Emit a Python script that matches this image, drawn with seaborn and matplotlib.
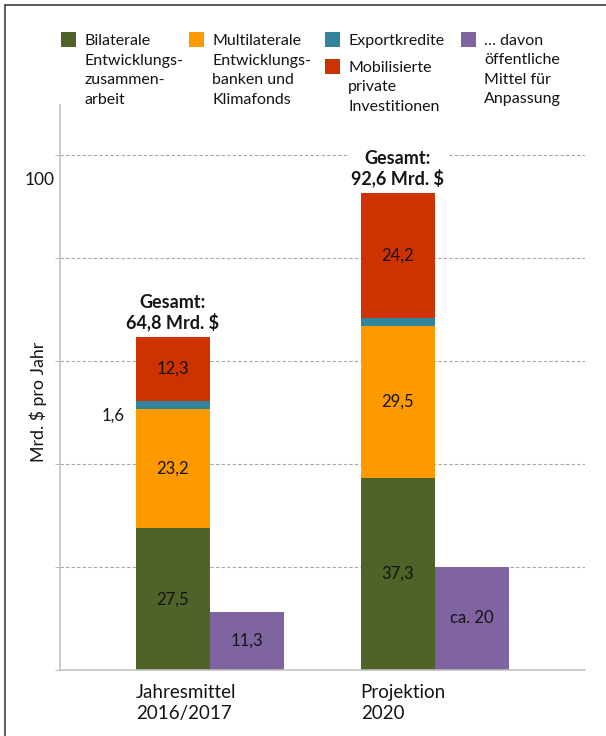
import numpy as np
import pandas as pd
import matplotlib
matplotlib.use("Agg")
import matplotlib.pyplot as plt
from matplotlib.patches import Rectangle
from matplotlib.lines import Line2D
import seaborn as sns

# --- data (Mrd. $ pro Jahr) -------------------------------------------------
categories = ["Jahresmittel\n2016/2017", "Projektion\n2020"]
bilateral = [27.5, 37.3]
multilateral = [23.2, 29.5]
export_credits = [1.6, 1.6]
private_mobilised = [12.3, 24.2]
adaptation = [11.3, 20.0]
totals = [64.8, 92.6]
adaptation_prefix = ["", "ca. "]

series_labels = [
    "Bilaterale\nEntwicklungs-\nzusammen-\narbeit",
    "Multilaterale\nEntwicklungs-\nbanken und\nKlimafonds",
    "Exportkredite",
    "Mobilisierte\nprivate\nInvestitionen",
    "… davon\nöffentliche\nMittel für\nAnpassung",
]
series_colors = ["#4F6228", "#FF9900", "#31849B", "#CC3300", "#8064A2"]

# --- style ------------------------------------------------------------------
sns.set_theme(style="white")
plt.rcParams["font.family"] = ["Lato", "DejaVu Sans"]
TEXT = "#141414"
AXIS_GREY = "#BFBFBF"
GRID_GREY = "#A6A6A6"

W, H = 606, 736
fig = plt.figure(figsize=(W / 100, H / 100), dpi=100)


def fx(px):
    return px / W


def fy(py):
    return 1 - py / H


def de(v):
    return f"{v:.1f}".replace(".", ",")


ax = fig.add_axes([fx(60), fy(670), (585 - 60) / W, (670 - 105) / H])

# base bars: bilateral and adaptation side by side via hue dodge
df = pd.DataFrame({
    "Kategorie": categories * 2,
    "Wert": bilateral + adaptation,
    "Reihe": ["bilateral"] * 2 + ["adaptation"] * 2,
})
sns.barplot(data=df, x="Kategorie", y="Wert", hue="Reihe",
            palette=[series_colors[0], series_colors[4]],
            width=0.66, gap=0, saturation=1, dodge=True, legend=False,
            errorbar=None, linewidth=0, ax=ax)

green_bars = ax.containers[0]
purple_bars = ax.containers[1]
xs = np.array([b.get_x() + b.get_width() / 2 for b in green_bars])
bw = green_bars[0].get_width()

# stacked segments on top of the bilateral bars
bottom = np.array(bilateral, dtype=float)
for vals, col in [(multilateral, series_colors[1]),
                  (export_credits, series_colors[2]),
                  (private_mobilised, series_colors[3])]:
    ax.bar(xs, vals, width=bw, bottom=bottom, color=col, linewidth=0)
    bottom = bottom + np.array(vals)
stack_top = bottom

# value labels inside the segments
VAL_FS = 12
for i, x in enumerate(xs):
    ax.text(x, bilateral[i] / 2, de(bilateral[i]), ha="center", va="center",
            fontsize=VAL_FS, color=TEXT)
    b = bilateral[i]
    ax.text(x, b + multilateral[i] / 2, de(multilateral[i]), ha="center",
            va="center", fontsize=VAL_FS, color=TEXT)
    b2 = b + multilateral[i] + export_credits[i]
    ax.text(x, b2 + private_mobilised[i] / 2, de(private_mobilised[i]),
            ha="center", va="center", fontsize=VAL_FS, color=TEXT)

# export credit value, shown beside the first bar only
ax.annotate(de(export_credits[0]),
            xy=(xs[0] - bw / 2, bilateral[0] + multilateral[0]),
            xytext=(-8, -5), textcoords="offset points",
            ha="right", va="center", fontsize=VAL_FS, color=TEXT)

for i, b in enumerate(purple_bars):
    ax.text(b.get_x() + b.get_width() / 2, adaptation[i] / 2,
            adaptation_prefix[i] + (de(adaptation[i]) if adaptation[i] % 1 else f"{adaptation[i]:.0f}"),
            ha="center", va="center", fontsize=VAL_FS, color=TEXT)

# totals above the stacks
for i, x in enumerate(xs):
    ax.annotate(f"Gesamt:\n{de(totals[i])} Mrd. $",
                xy=(x, stack_top[i]), xytext=(0, 4), textcoords="offset points",
                ha="center", va="bottom", fontsize=13, fontweight="bold",
                color=TEXT, linespacing=1.1,
                bbox=dict(facecolor="white", edgecolor="none", pad=3))

# axes
ax.set_xlim(-0.667, 1.667)
ax.set_ylim(0, 109.7)
ax.set_axisbelow(True)
ax.set_yticks(np.arange(0, 101, 20))
ax.set_yticklabels([])
ax.yaxis.grid(True, color=GRID_GREY, linestyle=(0, (3, 2)), linewidth=0.8)
ax.xaxis.grid(False)
ax.tick_params(axis="y", length=3.6, width=0.8, color=AXIS_GREY, left=True)
ax.set_xticks([b.get_x() for b in green_bars])
ax.set_xticklabels(categories, ha="left", fontsize=13.5, color=TEXT,
                   linespacing=1.32)
ax.tick_params(axis="x", length=0, pad=10)
ax.set_xlabel("")
ax.set_ylabel("")
for s in ["top", "right"]:
    ax.spines[s].set_visible(False)
for s in ["left", "bottom"]:
    ax.spines[s].set_color(AXIS_GREY)
    ax.spines[s].set_linewidth(1.1)

ax.annotate("100", xy=(0, 100), xycoords=("axes fraction", "data"),
            xytext=(-4, -18), textcoords="offset points",
            ha="right", va="center", fontsize=12.5, color=TEXT)

fig.text(fx(38), fy(402), "Mrd. $ pro Jahr", rotation=90, ha="center",
         va="center", fontsize=12.8, color=TEXT)

# legend drawn in figure pixels
legend_slots = [(61, 32), (189, 32), (325, 32), (325, 59), (461, 32)]
for (px, py), lab, col in zip(legend_slots, series_labels, series_colors):
    fig.add_artist(Rectangle((fx(px), fy(py + 15)), 15 / W, 15 / H,
                             transform=fig.transFigure, facecolor=col,
                             edgecolor="none"))
    fig.text(fx(px + 23), fy(py + 2), lab, ha="left", va="top",
             fontsize=11.5, color=TEXT, linespacing=1.5)

# frame lines along the left and top edges
fig.add_artist(Line2D([fx(5), fx(5)], [0, fy(4.5)], transform=fig.transFigure,
                      color="#4d4d4d", linewidth=1.3))
fig.add_artist(Line2D([fx(5), 1], [fy(4.5), fy(4.5)], transform=fig.transFigure,
                      color="#4d4d4d", linewidth=1.3))

fig.savefig("out.png", dpi=100, facecolor="white")
